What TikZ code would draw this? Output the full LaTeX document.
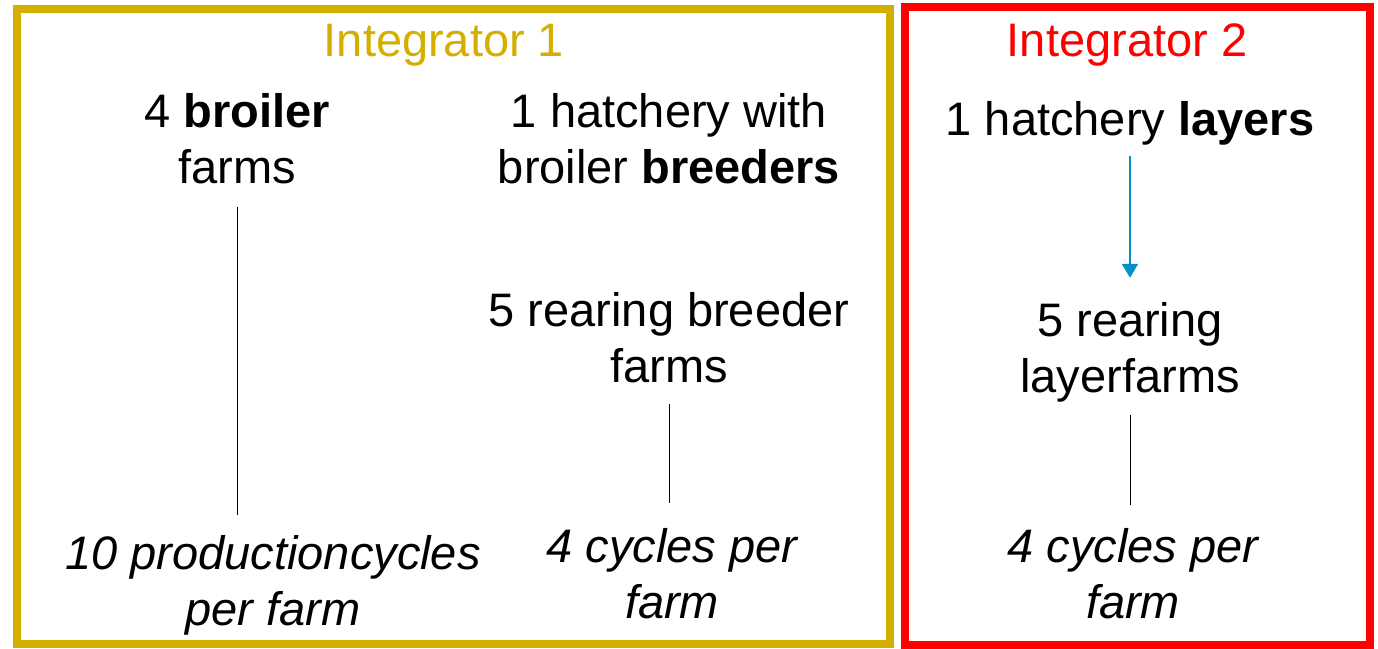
\documentclass[tikz,border=0pt]{standalone}
\usepackage{fontspec}
\setmainfont{Liberation Sans}
\usetikzlibrary{arrows.meta}
\definecolor{gold}{RGB}{212,175,0}
\definecolor{arrowblue}{RGB}{0,146,199}
\begin{document}
\begin{tikzpicture}[x=1pt,y=-1pt,
  txt/.style={inner sep=0pt,outer sep=0pt,align=center,font=\fontsize{47}{56}\selectfont},
  frame/.style={line width=8pt},
  link/.style={draw=black,line width=1pt},
  flow/.style={draw=arrowblue,line width=2pt,-{Triangle[width=16pt,length=14pt]}}]
\useasboundingbox (0,0) rectangle (1378,648);
% frames
\draw[frame,draw=gold] (17,8.5) rectangle (890,644);
\draw[frame,draw=red] (904.5,7) rectangle (1370,644.5);
% titles
\node[txt,text=gold] (int1) at (444,45) {\strut Integrator 1\strut};
\node[txt,text=red] (int2) at (1127,45) {\strut Integrator 2\strut};
% integrator 1
\node[txt] (broiler) at (237,143.8) {\strut 4 \textbf{broiler}\\farms\strut};
\node[txt] (hatch) at (669,143.8) {\strut 1 hatchery with\\broiler \textbf{breeders}\strut};
\node[txt] (rearB) at (669,342.8) {\strut 5 rearing breeder\\farms\strut};
\node[txt] (cycA) at (273,585.8) {\strut\itshape 10 productioncycles\\\itshape per farm\strut};
\node[txt] (cycB) at (672,578.8) {\strut\itshape 4 cycles per\\\itshape farm\strut};
% integrator 2
\node[txt] (hatchL) at (1130,124) {\strut 1 hatchery \textbf{layers}\strut};
\node[txt] (rearL) at (1130,352.8) {\strut 5 rearing\\layerfarms\strut};
\node[txt] (cycL) at (1133,578.8) {\strut\itshape 4 cycles per\\\itshape farm\strut};
% connectors
\draw[link,shorten <=7pt,shorten >=15pt] (broiler.south) -- (broiler.south |- cycA.north);
\draw[link,shorten <=5pt,shorten >=20pt] (rearB.south) -- (rearB.south |- cycB.north);
\draw[link,shorten <=6pt,shorten >=18pt] (rearL.south) -- (rearL.south |- cycL.north);
\draw[flow,shorten <=4pt,shorten >=19pt] (hatchL.south) -- (hatchL.south |- rearL.north);
\end{tikzpicture}
\end{document}
